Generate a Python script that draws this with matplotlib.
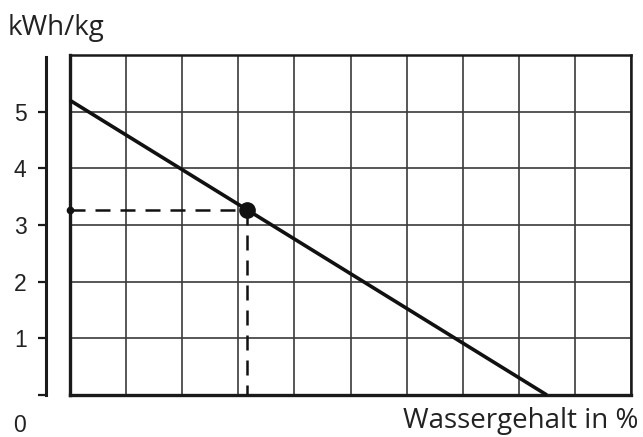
import matplotlib
matplotlib.use("Agg")
import matplotlib.pyplot as plt

# Data
line_x = [0, 8.5]
line_y = [5.2, 0]
point_x = 3.15
point_y = 3.27
y_ticks = [0, 1, 2, 3, 4, 5]
y_ticklabels = ["", "1", "2", "3", "4", "5"]
x_grid = list(range(0, 11))
y_grid = list(range(0, 7))
y_label = "kWh/kg"
x_label = "Wassergehalt in %"

W, H = 643, 437
fig = plt.figure(figsize=(W / 100, H / 100), dpi=100)

def fx(px):
    return px / W

def fy(py):
    return 1 - py / H

# main grid axes
L, R, T, B = 70, 631, 55, 395
ax = fig.add_axes([fx(L), fy(B), fx(R - L), fy(T) - fy(B)])
ax.set_xlim(0, 10)
ax.set_ylim(0, 6)
ax.set_xticks(x_grid)
ax.set_yticks(y_grid)
ax.tick_params(length=0, labelbottom=False, labelleft=False)
ax.grid(True, color="#3a3a3a", lw=1.2)
for s in ["left", "bottom"]:
    ax.spines[s].set_linewidth(2.4)
for s in ["top", "right"]:
    ax.spines[s].set_linewidth(1.8)
for s in ax.spines.values():
    s.set_color("#1a1a1a")

ax.plot(line_x, line_y, color="#111111", lw=2.6, solid_capstyle="butt", clip_on=False, zorder=3)
ax.plot([0, point_x], [point_y, point_y], color="#111111", lw=1.8, dashes=(6, 4), zorder=3)
ax.plot([point_x, point_x], [point_y, 0], color="#111111", lw=1.8, dashes=(6, 4), zorder=3)
ax.plot([point_x], [point_y], "o", color="#111111", ms=11, zorder=4)
ax.plot([0], [point_y], "o", color="#111111", ms=4.5, clip_on=False, zorder=4)

# separate y-axis
ax2 = fig.add_axes([fx(46), fy(B), 0.001, fy(T) - fy(B)])
ax2.set_ylim(0, 6)
ax2.set_xticks([])
for s in ["top", "right", "bottom"]:
    ax2.spines[s].set_visible(False)
ax2.spines["left"].set_linewidth(2.2)
ax2.spines["left"].set_color("#1a1a1a")
ax2.spines["left"].set_bounds(0, 5.96)
ax2.patch.set_visible(False)
ax2.set_yticks(y_ticks)
ax2.set_yticklabels(y_ticklabels, fontfamily="Liberation Sans", fontsize=16.5, color="#222222")
ax2.tick_params(axis="y", length=6, width=1.6, pad=8, color="#1a1a1a")

fig.text(fx(26), fy(425), "0", ha="right", va="center",
         fontfamily="Liberation Sans", fontsize=16.5, color="#222222")

fig.text(fx(8), fy(35), y_label, ha="left", va="baseline", fontfamily="Open Sans",
         fontsize=20, color="#222222")
fig.text(fx(638), fy(428), x_label, ha="right", va="baseline", fontfamily="Open Sans",
         fontsize=20, color="#222222")

fig.savefig("out.png", dpi=100)
